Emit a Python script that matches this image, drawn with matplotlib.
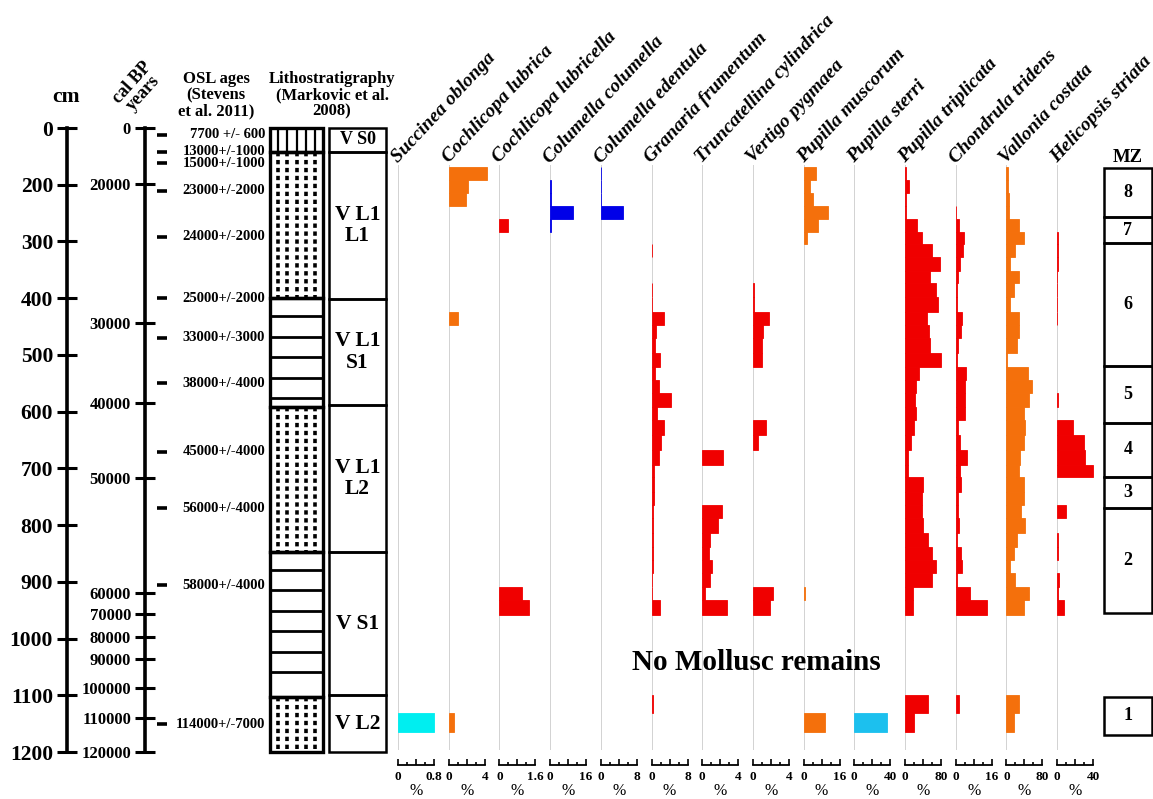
import matplotlib
matplotlib.use('Agg')
import matplotlib.pyplot as plt
import numpy as np
from matplotlib.patches import Rectangle

plt.rcParams['font.family'] = ['Liberation Serif', 'DejaVu Serif']
plt.rcParams['font.weight'] = 'bold'

W, H = 1153, 799
TOP_PX, BOT_PX = 128, 752      # frame of the depth scale in pixels
Y_TOP, Y_BOT = 100, 1200       # depth-position units at top / bottom

# ---------------- left scales ----------------
depth_pos = [100, 200, 300, 400, 500, 600, 700, 800, 900, 1000, 1100, 1200]
depth_lab = ['0', '200', '300', '400', '500', '600', '700', '800', '900',
             '1000', '1100', '1200']

calbp_pos = [100, 199, 444, 585, 717, 920, 957, 997, 1036, 1087, 1140, 1200]
calbp_lab = ['0', '20000', '30000', '40000', '50000', '60000', '70000',
             '80000', '90000', '100000', '110000', '120000']

osl_pos = [112, 142, 162, 211, 292, 400, 470, 550, 671, 770, 906, 1151]
osl_lab = ['7700 +/- 600', '13000+/-1000', '15000+/-1000', '23000+/-2000',
           '24000+/-2000', '25000+/-2000', '33000+/-3000', '38000+/-4000',
           '45000+/-4000', '56000+/-4000', '58000+/-4000', '114000+/-7000']

litho_edges = [100, 142, 400, 592, 847, 1103, 1200]
litho_kind = ['vert', 'dot', 'horiz', 'dot', 'horiz', 'dot']

strat_edges = [100, 142, 402, 588, 848, 1100, 1200]
strat_names = ['V S0', 'V L1\nL1', 'V L1\nS1', 'V L1\nL2', 'V S1', 'V L2']

mz_edges = [171, 257, 303, 520, 620, 715, 770, 955]
mz_names = ['8', '7', '6', '5', '4', '3', '2']
mz1_edges = [1103, 1170]

# ---------------- samples ----------------
sample_edges = [169, 192, 215, 238, 260, 283, 305, 328, 352, 373, 398, 424,
                447, 470, 497, 521, 544, 567, 592, 615, 641, 668, 694, 715,
                742, 765, 788, 814, 839, 862, 885, 909, 932, 959]
lower_edges = [1100, 1131, 1165]

species = ['Succinea oblonga', 'Cochlicopa lubrica', 'Cochlicopa lubricella',
           'Columella columella', 'Columella edentula', 'Granaria frumentum',
           'Truncatellina cylindrica', 'Vertigo pygmaea', 'Pupilla muscorum',
           'Pupilla sterri', 'Pupilla triplicata', 'Chondrula tridens',
           'Vallonia costata', 'Helicopsis striata']
scale_max = [0.8, 4, 1.6, 16, 8, 8, 4, 4, 16, 40, 80, 16, 80, 40]
scale_lab = ['0.8', '4', '1.6', '16', '8', '8', '4', '4', '16', '40', '80',
             '16', '80', '40']

ORANGE, RED, BLUE = '#f4700c', '#f00000', '#0000e8'
CYAN, SKY = '#00eef0', '#1cc0ee'
colors = [CYAN, ORANGE, RED, BLUE, BLUE, RED, RED, RED, ORANGE, SKY, RED,
          RED, ORANGE, RED]

# % values: 33 upper samples, then 2 lower samples
succinea = [0, 0, 0, 0, 0, 0, 0, 0, 0, 0,
            0, 0, 0, 0, 0, 0, 0, 0, 0, 0,
            0, 0, 0, 0, 0, 0, 0, 0, 0, 0,
            0, 0, 0, 0, 0.8]
c_lubrica = [4.3, 2.1, 1.9, 0, 0, 0, 0, 0, 0, 0,
             0, 1.0, 0, 0, 0, 0, 0, 0, 0, 0,
             0, 0, 0, 0, 0, 0, 0, 0, 0, 0,
             0, 0, 0, 0, 0.55]
c_lubricella = [0, 0, 0, 0, 0.36, 0, 0, 0, 0, 0,
                0, 0, 0, 0, 0, 0, 0, 0, 0, 0,
                0, 0, 0, 0, 0, 0, 0, 0, 0, 0,
                0, 1.0, 1.3, 0, 0]
col_columella = [0, 0.2, 0.2, 10.2, 0.2, 0, 0, 0, 0, 0,
                 0, 0, 0, 0, 0, 0, 0, 0, 0, 0,
                 0, 0, 0, 0, 0, 0, 0, 0, 0, 0,
                 0, 0, 0, 0, 0]
col_edentula = [0.15, 0.15, 0.15, 4.9, 0, 0, 0, 0, 0, 0,
                0, 0, 0, 0, 0, 0, 0, 0, 0, 0,
                0, 0, 0, 0, 0, 0, 0, 0, 0, 0,
                0, 0, 0, 0, 0]
granaria = [0, 0, 0, 0, 0, 0, 0.2, 0, 0, 0.2,
            0.2, 2.7, 0.9, 0.8, 1.8, 0.8, 1.6, 4.4, 1.3, 2.8,
            2.2, 1.6, 0.6, 0.5, 0.5, 0.4, 0.4, 0.3, 0.3, 0.3,
            0.2, 0.2, 1.8, 0.3, 0]
truncatellina = [0, 0, 0, 0, 0, 0, 0, 0, 0, 0,
                 0, 0, 0, 0, 0, 0, 0, 0, 0, 0,
                 0, 2.3, 0, 0, 0, 2.2, 1.8, 0.9, 0.8, 1.1,
                 0.9, 0.3, 2.7, 0, 0]
vertigo = [0, 0, 0, 0, 0, 0, 0, 0, 0, 0.1,
           0.1, 1.8, 1.1, 1.0, 1.0, 0, 0, 0, 0, 1.4,
           0.6, 0, 0, 0, 0, 0, 0, 0, 0, 0,
           0, 2.2, 1.9, 0, 0]
p_muscorum = [5.3, 3.0, 4.0, 11.0, 6.2, 1.3, 0, 0, 0, 0,
              0, 0, 0, 0, 0, 0, 0, 0, 0, 0,
              0, 0, 0, 0, 0, 0, 0, 0, 0, 0,
              0, 0.4, 0, 0, 9.3]
p_sterri = [0, 0, 0, 0, 0, 0, 0, 0, 0, 0,
            0, 0, 0, 0, 0, 0, 0, 0, 0, 0,
            0, 0, 0, 0, 0, 0, 0, 0, 0, 0,
            0, 0, 0, 0, 36.7]
p_triplicata = [3, 8, 2, 2, 27, 38, 60, 78, 56, 69,
                73, 49, 53, 56, 80, 31, 24, 22, 24, 20,
                13, 7, 7, 40, 38, 38, 40, 51, 60, 69,
                60, 18, 18, 51, 20]
chondrula = [0, 0, 0, 0.3, 1.3, 3.6, 3.2, 1.9, 0.9, 0.5,
             0.5, 2.7, 2.5, 0.8, 0.5, 4.4, 4.0, 4.0, 4.0, 0.8,
             2.0, 4.9, 1.7, 2.2, 0.9, 0.9, 1.3, 0.5, 2.2, 3.0,
             0.5, 6.4, 13.8, 1.3, 0]
vallonia = [3, 4, 5, 5, 27, 38, 20, 9, 27, 16,
            9, 27, 27, 24, 2, 47, 56, 51, 40, 42,
            38, 31, 29, 38, 40, 33, 42, 24, 16, 7,
            18, 51, 38, 29, 16]
helicopsis = [0, 0, 0, 0, 0, 0.5, 0.5, 0.5, 0.4, 0.4,
              0.4, 0.4, 0, 0, 0, 0, 0, 0.5, 0, 17.8,
              29.5, 31, 40, 0, 0, 10, 0, 1, 0.5, 0,
              2.2, 1, 8, 0, 0]

counts = [succinea, c_lubrica, c_lubricella, col_columella, col_edentula,
          granaria, truncatellina, vertigo, p_muscorum, p_sterri,
          p_triplicata, chondrula, vallonia, helicopsis]

fig = plt.figure(figsize=(W / 100, H / 100), dpi=100)


def column_axes(x0, x1):
    """axes spanning pixel columns x0..x1 and the full depth frame"""
    ax = fig.add_axes([x0 / W, 1 - BOT_PX / H, (x1 - x0) / W,
                       (BOT_PX - TOP_PX) / H])
    ax.set_ylim(Y_BOT, Y_TOP)
    ax.patch.set_visible(False)
    return ax


def scale_axis(x, pos, lab, size):
    ax = column_axes(x, x + 1)
    for s in ['top', 'right', 'bottom']:
        ax.spines[s].set_visible(False)
    ax.spines['left'].set_linewidth(2.6)
    ax.set_xticks([])
    ax.set_yticks(pos)
    ax.set_yticklabels(lab)
    ax.tick_params(axis='y', direction='inout', length=14, width=2.2,
                   pad=3, labelsize=size)
    return ax


# depth and age scales
scale_axis(67, depth_pos, depth_lab, 15.5)
scale_axis(145, calbp_pos, calbp_lab, 12)
fig.text(66 / W, 1 - 97 / H, 'cm', ha='center', va='center', fontsize=15.5)
fig.text(138 / W, 1 - 88 / H, 'cal BP\nyears', ha='center', va='center',
         rotation=48, rotation_mode='anchor', fontsize=13, linespacing=0.85)

# OSL ages
ax = column_axes(155, 268)
ax.set_xlim(0, 1)
ax.axis('off')
ax.plot(np.full(len(osl_pos), 0.065), osl_pos, ls='none', marker='_',
        ms=7, mew=2.6, color='k')
for p, t in zip(osl_pos, osl_lab):
    ax.text(0.975, p, t, ha='right', va='center', fontsize=10.5)
fig.text(216 / W, 1 - 95 / H, 'OSL ages\n(Stevens\net al. 2011)',
         ha='center', va='center', fontsize=12, linespacing=1.0)

# lithology column
ax = column_axes(270, 323)
ax.set_xlim(0, 1)
ax.axis('off')
xs = [0.15, 0.32, 0.5, 0.68, 0.85]
for top, bot, kind in zip(litho_edges[:-1], litho_edges[1:], litho_kind):
    if kind == 'vert':
        ax.vlines(xs, top, bot, color='k', lw=1.6)
    elif kind == 'dot':
        ax.vlines(xs, top, bot, color='k', lw=2.6, linestyles=(0, (1.2, 1.0)))
    else:
        ax.hlines(np.arange(top + 32, bot - 10, 36), 0, 1, color='k', lw=2.0)
    ax.add_patch(Rectangle((0, top), 1, bot - top, fill=False, ec='k',
                           lw=2.4, clip_on=False))
fig.text(332 / W, 1 - 95 / H, 'Lithostratigraphy\n(Markovic et al.\n2008)',
         ha='center', va='center', fontsize=12, linespacing=1.0)

# lithostratigraphic units
ax = column_axes(329, 386)
ax.set_xlim(0, 1)
ax.axis('off')
for top, bot, name in zip(strat_edges[:-1], strat_edges[1:], strat_names):
    ax.add_patch(Rectangle((0, top), 1, bot - top, fill=False, ec='k',
                           lw=1.8, clip_on=False))
    ax.text(0.5, (top + bot) / 2, name, ha='center', va='center',
            fontsize=13 if bot - top < 60 else 15.5, linespacing=1.1)

# species panels
up = np.array(sample_edges, float)
lo = np.array(lower_edges, float)
tops = np.concatenate([up[:-1], lo[:-1]])
heights = np.concatenate([np.diff(up), np.diff(lo)])

FIRST_X, STEP, FULL = 398.0, 50.7, 36.0
for i, name in enumerate(species):
    bx = FIRST_X + i * STEP
    ax = column_axes(bx, bx + STEP)
    vmax = scale_max[i]
    ax.set_xlim(0, vmax * STEP / FULL)
    ax.vlines(0, 165, 1196, color='#c6c6c6', lw=1.1, zorder=1)
    vals = np.array(counts[i], float)
    m = vals > 0
    ax.barh(tops[m], vals[m], height=heights[m], align='edge',
            color=colors[i], edgecolor=colors[i], lw=0.6, zorder=2)
    ax.text(0, 163, name, rotation=47, rotation_mode='anchor', ha='left',
            va='baseline', fontsize=14, style='italic', clip_on=False)
    for s in ['top', 'right', 'left']:
        ax.spines[s].set_visible(False)
    ax.spines['bottom'].set_position(('outward', 9.5))
    ax.spines['bottom'].set_bounds(0, vmax)
    ax.spines['bottom'].set_linewidth(1.3)
    ax.set_yticks([])
    ax.set_xticks([0, vmax / 2, vmax])
    ax.set_xticklabels(['0', '', scale_lab[i]])
    ax.set_xticks([vmax / 4, 3 * vmax / 4], minor=True)
    ax.tick_params(axis='x', which='major', direction='in', length=4.5,
                   width=1.2, pad=4, labelsize=9.5)
    ax.tick_params(axis='x', which='minor', direction='in', length=2.5,
                   width=1.2)
    ax.set_xlabel('%', fontsize=11.5)
    ax.xaxis.set_label_coords(FULL / 2 / STEP, -0.05)

fig.text(756 / W, 1 - 663 / H, 'No Mollusc remains', ha='center',
         va='center', fontsize=21)

# mollusc zones
ax = column_axes(1104, 1152)
ax.set_xlim(0, 1)
ax.axis('off')
for top, bot, name in zip(mz_edges[:-1], mz_edges[1:], mz_names):
    ax.add_patch(Rectangle((0, top), 1, bot - top, fill=False, ec='k',
                           lw=1.8, clip_on=False))
    ax.text(0.5, (top + bot) / 2, name, ha='center', va='center', fontsize=13)
ax.add_patch(Rectangle((0, mz1_edges[0]), 1, mz1_edges[1] - mz1_edges[0],
                       fill=False, ec='k', lw=1.8, clip_on=False))
ax.text(0.5, sum(mz1_edges) / 2, '1', ha='center', va='center', fontsize=13)
fig.text(1128 / W, 1 - 157 / H, 'MZ', ha='center', va='center', fontsize=13.5)

fig.savefig('out.png', dpi=100)
